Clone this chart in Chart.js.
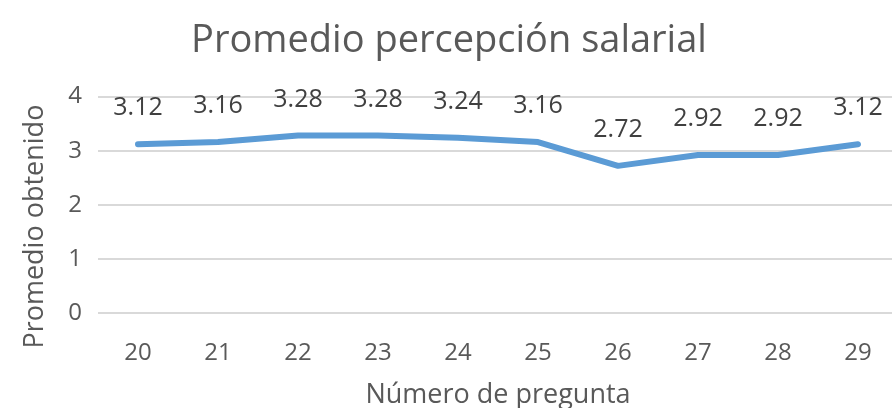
<!DOCTYPE html>
<html>
<head>
    <title>Promedio percepción salarial</title>
    <script src="https://cdn.jsdelivr.net/npm/chart.js"></script>
    <style>
        html, body { margin: 0; padding: 0; background: #fff; overflow: hidden; }
        #wrap { width: 898px; height: 408px; }
    </style>
</head>
<body>
    <div id="wrap">
        <canvas id="chart"></canvas>
    </div>

    <script>
        'use strict';

        const preguntas = ['20', '21', '22', '23', '24', '25', '26', '27', '28', '29'];
        const promedios = [3.12, 3.16, 3.28, 3.28, 3.24, 3.16, 2.72, 2.92, 2.92, 3.12];
        const yTicks = [0, 1, 2, 3, 4];

        const lineColor = '#5B9BD5';
        const textColor = '#595959';
        const fontFamily = "'Open Sans', sans-serif";

        // value labels above the points + the rotated y axis title
        const extraText = {
            id: 'extraText',
            afterDatasetsDraw(chart) {
                const ctx = chart.ctx;
                const meta = chart.getDatasetMeta(0);
                ctx.save();
                ctx.fillStyle = '#404040';
                ctx.font = '25px ' + fontFamily;
                ctx.textAlign = 'center';
                ctx.textBaseline = 'middle';
                meta.data.forEach(function (pt, i) {
                    ctx.fillText(promedios[i].toFixed(2), pt.x, pt.y - 36);
                });
                ctx.restore();

                ctx.save();
                ctx.fillStyle = textColor;
                ctx.font = '27px ' + fontFamily;
                ctx.textAlign = 'center';
                ctx.textBaseline = 'middle';
                ctx.translate(35, chart.chartArea.top + 130);
                ctx.rotate(-Math.PI / 2);
                ctx.fillText('Promedio obtenido', 0, 0);
                ctx.restore();
            }
        };

        const ctx = document.getElementById('chart').getContext('2d');

        new Chart(ctx, {
            type: 'line',
            data: {
                labels: preguntas,
                datasets: [{
                    label: 'Promedio',
                    data: promedios,
                    borderColor: lineColor,
                    borderWidth: 6,
                    borderCapStyle: 'round',
                    borderJoinStyle: 'round',
                    pointRadius: 0,
                    tension: 0,
                    fill: false
                }]
            },
            options: {
                responsive: true,
                maintainAspectRatio: false,
                animation: false,
                layout: {
                    padding: { top: 0, left: 0, right: 0, bottom: 0 }
                },
                scales: {
                    x: {
                        offset: true,
                        afterFit: function (axis) { axis.height = 95; },
                        grid: { display: false, drawTicks: false },
                        border: { display: false },
                        ticks: {
                            color: textColor,
                            padding: 26,
                            font: { family: fontFamily, size: 24 }
                        },
                        title: {
                            display: true,
                            text: 'Número de pregunta',
                            color: textColor,
                            padding: { top: 7, bottom: -4 },
                            font: { family: fontFamily, size: 27 }
                        }
                    },
                    y: {
                        min: 0,
                        max: 4,
                        afterFit: function (axis) { axis.width = 98; },
                        afterBuildTicks: function (axis) {
                            axis.ticks = yTicks.map(function (v) { return { value: v }; });
                        },
                        grid: { color: '#D9D9D9', lineWidth: 2, drawTicks: false },
                        border: { display: false },
                        ticks: {
                            color: textColor,
                            padding: 16,
                            font: { family: fontFamily, size: 24 }
                        }
                    }
                },
                plugins: {
                    legend: { display: false },
                    tooltip: { enabled: false },
                    title: {
                        display: true,
                        text: 'Promedio percepción salarial',
                        color: textColor,
                        padding: { top: 18, bottom: 33 },
                        font: { family: fontFamily, size: 38, weight: 'normal' }
                    }
                }
            },
            plugins: [extraText]
        });
    </script>
</body>
</html>
